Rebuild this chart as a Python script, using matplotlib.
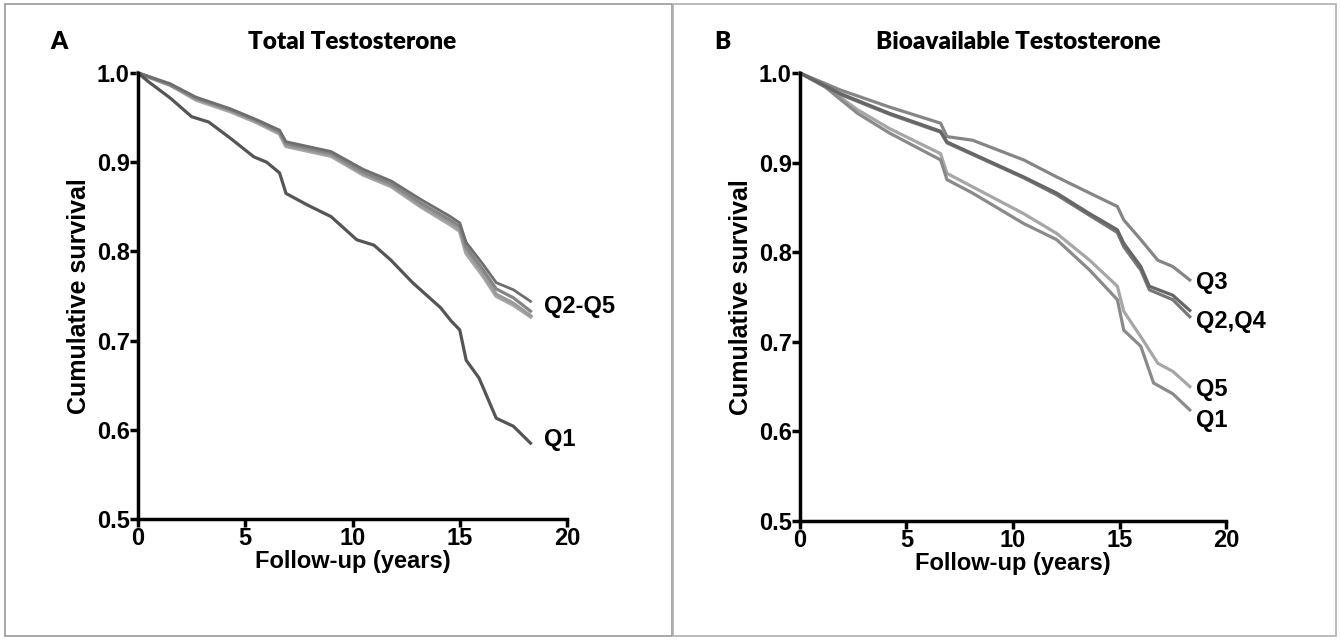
import matplotlib.pyplot as plt
from matplotlib.patches import Rectangle

# Panel A: total testosterone quintiles (Kaplan-Meier)
tA_q1 = [0, 0.5, 1.5, 2.5, 3.3, 4.3, 5.4, 6.0, 6.6, 6.9, 7.9, 9.0, 10.2, 11.0, 11.8,
         12.8, 14.1, 14.6, 15.0, 15.3, 15.9, 16.7, 17.5, 18.3]
sA_q1 = [1.0, 0.990, 0.972, 0.951, 0.945, 0.927, 0.906, 0.900, 0.888, 0.865, 0.852,
         0.839, 0.813, 0.807, 0.790, 0.765, 0.737, 0.722, 0.712, 0.678, 0.658, 0.613,
         0.604, 0.585]

tA_rest = [0, 1.5, 2.7, 4.3, 5.5, 6.6, 6.9, 9.0, 10.5, 11.8, 13.2, 14.5, 15.0, 15.3,
           16.1, 16.7, 17.5, 18.3]
sA_top = [1.0, 0.988, 0.973, 0.960, 0.948, 0.936, 0.923, 0.912, 0.892, 0.879, 0.858,
          0.840, 0.832, 0.810, 0.785, 0.765, 0.757, 0.744]
sA_b = [1.0, 0.987, 0.972, 0.959, 0.947, 0.934, 0.921, 0.910, 0.889, 0.876, 0.854,
        0.836, 0.828, 0.805, 0.779, 0.758, 0.748, 0.733]
sA_c = [1.0, 0.986, 0.971, 0.958, 0.946, 0.933, 0.919, 0.908, 0.887, 0.874, 0.851,
        0.833, 0.825, 0.801, 0.775, 0.752, 0.742, 0.728]
sA_d = [1.0, 0.987, 0.970, 0.957, 0.945, 0.932, 0.918, 0.907, 0.886, 0.873, 0.850,
        0.831, 0.823, 0.798, 0.772, 0.750, 0.740, 0.727]

# Panel B: bioavailable testosterone quintiles
tB_q3 = [0, 1.9, 4.2, 6.6, 6.9, 8.1, 10.5, 12.05, 13.6, 14.9, 15.2, 16.0, 16.8, 17.5, 18.3]
sB_q3 = [1.0, 0.981, 0.962, 0.944, 0.929, 0.925, 0.903, 0.884, 0.866, 0.851, 0.836,
         0.814, 0.791, 0.784, 0.769]
tB_q24 = [0, 1.9, 4.2, 6.6, 6.9, 8.1, 10.5, 12.05, 13.6, 14.9, 15.2, 16.0, 16.4, 17.5, 18.3]
sB_q2 = [1.0, 0.977, 0.955, 0.935, 0.923, 0.910, 0.884, 0.866, 0.843, 0.825, 0.810,
         0.784, 0.762, 0.752, 0.735]
sB_q4 = [1.0, 0.976, 0.954, 0.934, 0.922, 0.909, 0.883, 0.864, 0.841, 0.822, 0.806,
         0.780, 0.758, 0.747, 0.728]
tB_q5 = [0, 1.2, 2.7, 4.2, 6.6, 6.9, 8.1, 10.5, 12.05, 13.6, 14.9, 15.2, 16.1, 16.8, 17.5, 18.3]
sB_q5 = [1.0, 0.985, 0.959, 0.938, 0.910, 0.888, 0.873, 0.843, 0.821, 0.791, 0.762,
         0.734, 0.702, 0.676, 0.667, 0.650]
tB_q1 = [0, 1.2, 2.7, 4.2, 6.6, 6.9, 8.1, 10.5, 12.05, 13.6, 14.9, 15.2, 16.0, 16.6, 17.5, 18.3]
sB_q1 = [1.0, 0.984, 0.955, 0.933, 0.903, 0.881, 0.866, 0.832, 0.814, 0.780, 0.747,
         0.713, 0.695, 0.654, 0.642, 0.624]

xticks = [0, 5, 10, 15, 20]
yticks = [0.5, 0.6, 0.7, 0.8, 0.9, 1.0]

LW = 2.3
lab_font = dict(family='Liberation Sans', weight='bold')


def style_axes(ax):
    ax.set_xlim(0, 20)
    ax.set_ylim(0.5, 1.0)
    ax.set_xticks(xticks)
    ax.set_yticks(yticks)
    ax.set_yticklabels(['%.1f' % v for v in yticks])
    for s in ['top', 'right']:
        ax.spines[s].set_visible(False)
    for s in ['left', 'bottom']:
        ax.spines[s].set_linewidth(2.5)
    ax.tick_params(width=2.5, length=6, labelsize=17, pad=0)
    for lb in ax.get_xticklabels() + ax.get_yticklabels():
        lb.set_fontfamily('Liberation Sans')
        lb.set_fontweight('bold')
    ax.set_xlabel('Follow-up (years)', fontsize=17, labelpad=0, **lab_font)
    ax.set_ylabel('Cumulative survival', fontsize=18, labelpad=4, **lab_font)


fig = plt.figure(figsize=(13.4, 6.4), dpi=100)

# panel frames
fig.patches.append(Rectangle((5 / 1340, 4 / 640), 667 / 1340, 632 / 640,
                             transform=fig.transFigure, fill=False,
                             edgecolor='#9a9a9a', linewidth=1.2))
fig.patches.append(Rectangle((673 / 1340, 4 / 640), 663 / 1340, 632 / 640,
                             transform=fig.transFigure, fill=False,
                             edgecolor='#b0b0b0', linewidth=1.2))

axA = fig.add_axes([138 / 1340, 1 - 519 / 640, 429 / 1340, 446 / 640])
axA.plot(tA_rest, sA_d, color='#a8a8a8', lw=LW + 0.6, clip_on=False)
axA.plot(tA_rest, sA_c, color='#9a9a9a', lw=LW, clip_on=False)
axA.plot(tA_rest, sA_b, color='#858585', lw=LW, clip_on=False)
axA.plot(tA_rest, sA_top, color='#6e6e6e', lw=LW - 0.3, clip_on=False)
axA.plot(tA_q1, sA_q1, color='#555555', lw=LW, clip_on=False)
style_axes(axA)
axA.text(18.95, 0.738, 'Q2-Q5', fontsize=17, va='center', ha='left', **lab_font)
axA.text(18.95, 0.589, 'Q1', fontsize=17, va='center', ha='left', **lab_font)

axB = fig.add_axes([800 / 1340, 1 - 521 / 640, 426 / 1340, 448 / 640])
axB.plot(tB_q5, sB_q5, color='#a6a6a6', lw=LW, clip_on=False)
axB.plot(tB_q1, sB_q1, color='#8a8a8a', lw=LW, clip_on=False)
axB.plot(tB_q3, sB_q3, color='#858585', lw=LW, clip_on=False)
axB.plot(tB_q24, sB_q4, color='#777777', lw=LW, clip_on=False)
axB.plot(tB_q24, sB_q2, color='#666666', lw=LW, clip_on=False)
style_axes(axB)
axB.text(18.6, 0.766, 'Q3', fontsize=17, va='center', ha='left', **lab_font)
axB.text(18.6, 0.723, 'Q2,Q4', fontsize=17, va='center', ha='left', **lab_font)
axB.text(18.6, 0.647, 'Q5', fontsize=17, va='center', ha='left', **lab_font)
axB.text(18.6, 0.612, 'Q1', fontsize=17, va='center', ha='left', **lab_font)

title_font = dict(family=['Lato', 'DejaVu Sans'], weight='heavy', fontsize=17.5)
fig.text(50 / 1340, 1 - 42 / 640, 'A', va='center', ha='left', **title_font)
fig.text(352 / 1340, 1 - 42 / 640, 'Total Testosterone', va='center', ha='center', **title_font)
fig.text(714 / 1340, 1 - 42 / 640, 'B', va='center', ha='left', **title_font)
fig.text(1018 / 1340, 1 - 42 / 640, 'Bioavailable Testosterone', va='center', ha='center', **title_font)

plt.savefig('out.png', dpi=100)
